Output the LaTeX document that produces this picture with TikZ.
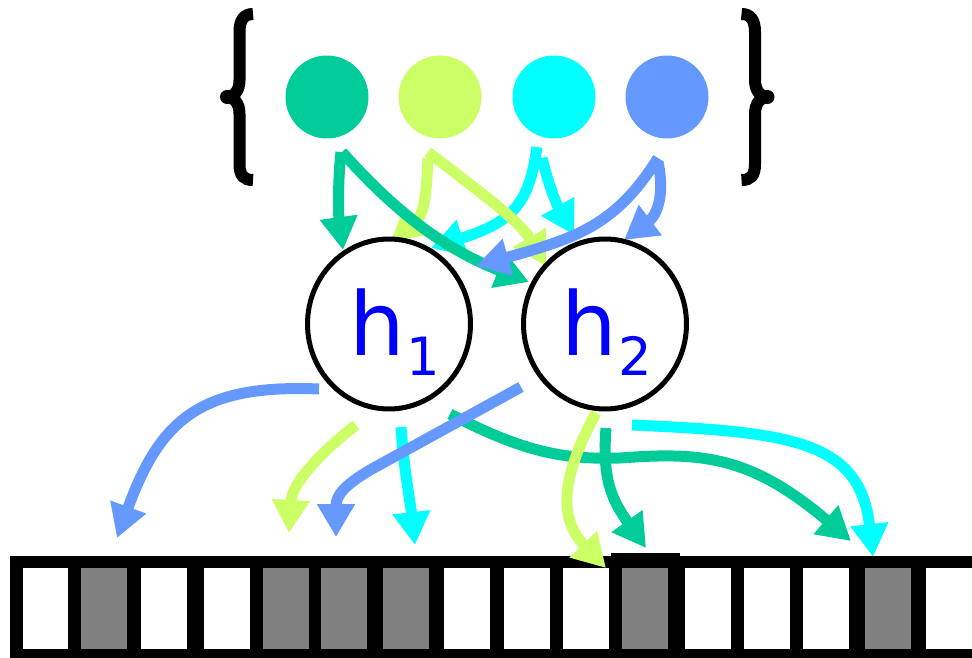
\documentclass[tikz,border=0pt]{standalone}
\usepackage{fontspec}
\setmainfont{DejaVu Sans}
\usetikzlibrary{arrows.meta,shapes.geometric}

\definecolor{cgreen}{RGB}{0,204,153}
\definecolor{clime}{RGB}{204,255,102}
\definecolor{ccyan}{RGB}{0,255,255}
\definecolor{cblue}{RGB}{102,153,255}
\definecolor{cellgray}{RGB}{128,128,128}
\definecolor{hblue}{RGB}{0,0,255}

\pgfdeclarelayer{base}
\pgfdeclarelayer{links}
\pgfsetlayers{base,links,main}

\begin{document}
\begin{tikzpicture}[x=0.02cm,y=-0.02cm,
  flow/.style={line width=0.22cm, -{Triangle[length=0.66cm,width=0.72cm]}},
  atom/.style={circle, minimum size=1.66cm, inner sep=0pt, fill=#1},
  hidden/.style={ellipse, draw, line width=0.1cm, fill=white,
                 minimum width=3.26cm, minimum height=3.40cm, inner sep=0pt},
  hlabel/.style={inner sep=0pt, anchor=base west, text=hblue,
                 font=\fontsize{50}{60}\selectfont},
  sublabel/.style={inner sep=0pt, anchor=base west, text=hblue,
                   font=\fontsize{30}{36}\selectfont},
  cell/.style={rectangle, inner sep=0pt, minimum width=0.92cm,
               minimum height=1.62cm, fill=#1},
  brace/.style={line width=0.24cm}]
\useasboundingbox (0,0) rectangle (972,658);

% ---- memory strip ----
\begin{pgfonlayer}{base}
  \fill[black] (10,556) rectangle (972,658);
  \fill[black] (611,553) rectangle (680,572);
  \foreach \n/\cx/\col in {1/45.5/white, 2/104/cellgray, 3/164/white,
      4/226.5/white, 5/285.5/cellgray, 6/343.5/cellgray, 7/406/cellgray,
      8/467/white, 9/526.5/white, 10/585.5/white, 11/645/cellgray,
      12/707.5/white, 13/767/white, 14/826/white, 15/888/cellgray,
      16/948.5/white}
    \node[cell=\col] (c\n) at (\cx,608.5) {};
\end{pgfonlayer}

% ---- dictionary atoms ----
\node[atom=cgreen] (a1) at (327,97) {};
\node[atom=clime]  (a2) at (440,97) {};
\node[atom=ccyan]  (a3) at (554,97) {};
\node[atom=cblue]  (a4) at (667,97) {};

% ---- braces ----
\draw[brace] (253,14) .. controls (244,14) and (239.5,20) .. (239.5,32)
  -- (239.5,80) .. controls (239.5,91) and (234,97) .. (226,97)
  .. controls (234,97) and (239.5,103) .. (239.5,114)
  -- (239.5,164) .. controls (239.5,176) and (244,180) .. (253,180);
\fill (227,97) circle (7);
\draw[brace] (741.5,14) .. controls (750.5,14) and (755,20) .. (755,32)
  -- (755,80) .. controls (755,91) and (760.5,97) .. (768.5,97)
  .. controls (760.5,97) and (755,103) .. (755,114)
  -- (755,164) .. controls (755,176) and (750.5,180) .. (741.5,180);
\fill (767.5,97) circle (7);

% ---- hidden units ----
\node[hidden] (h1) at (389,324) {};
\node[hidden] (h2) at (605,324) {};
\node[hlabel]   (h1t) at (349,355) {h};
\node[sublabel] (h1s) at (406,375) {1};
\node[hlabel]   (h2t) at (561,355) {h};
\node[sublabel] (h2s) at (618,375) {2};

% ---- atoms feeding the hidden units ----
\begin{pgfonlayer}{links}
  \draw[flow, ccyan] ([shift={(-17,50)}]a3.center) .. controls (529,205) and (512,222) .. ([shift={(42,-76)}]h1.center);
  \draw[flow, ccyan] ([shift={(-12,61)}]a3.center) .. controls (550,190) and (557,205) .. ([shift={(-31,-89)}]h2.center);
  \draw[flow, clime] ([shift={(-12,61)}]a2.center) .. controls (426,205) and (423,215) .. ([shift={(2,-83)}]h1.center);
  \draw[flow, clime] ([shift={(-12,55)}]a2.center) .. controls (477,190) and (519,220) .. ([shift={(-59,-58)}]h2.center);
  \draw[flow, cgreen] ([shift={(14,55)}]a1.center) .. controls (337,190) and (339,220) .. ([shift={(-46,-74)}]h1.center);
  \draw[flow, cgreen] ([shift={(15,55)}]a1.center) .. controls (398,215) and (447,250) .. ([shift={(-76,-42)}]h2.center);
  \draw[flow, cblue] ([shift={(-9,61)}]a4.center) .. controls (616,225) and (577,238) .. ([shift={(87,-58)}]h1.center);
  \draw[flow, cblue] ([shift={(-9,65)}]a4.center) .. controls (665,195) and (657,215) .. ([shift={(19,-84)}]h2.center);
\end{pgfonlayer}

% ---- hidden units writing to the strip ----
\draw[flow, ccyan] ([shift={(12,103)}]h1.center) .. controls (404,470) and (410,500) .. ([shift={(9,-63.5)}]c7.center);
\draw[flow, ccyan] ([shift={(27,101)}]h2.center) .. controls (790,432) and (860,440) .. ([shift={(-15,-51.5)}]c15.center);
\draw[flow, cgreen] ([shift={(61,90)}]h1.center) .. controls (520,450) and (560,460) .. (620,458)
  .. controls (700,452) and (750,455) .. ([shift={(-37,-67.5)}]c15.center);
\draw[flow, cgreen] ([shift={(1,104)}]h2.center) .. controls (602,480) and (612,500) .. ([shift={(1,-60.5)}]c11.center);
\draw[flow, cblue] ([shift={(-70,65)}]h1.center) .. controls (200,384) and (160,420) .. ([shift={(13,-70.5)}]c2.center);
\draw[flow, cblue] ([shift={(-84,63)}]h2.center) -- (370,470) .. controls (345,485) and (336,495) .. ([shift={(-7.5,-71.5)}]c6.center);
\draw[flow, clime] ([shift={(-33,101)}]h1.center) .. controls (330,445) and (292,480) .. ([shift={(3.5,-75.5)}]c5.center);
\draw[flow, clime] ([shift={(-9,89)}]h2.center) .. controls (565,470) and (555,515) .. ([shift={(20.5,-40.5)}]c10.center);
\end{tikzpicture}
\end{document}
